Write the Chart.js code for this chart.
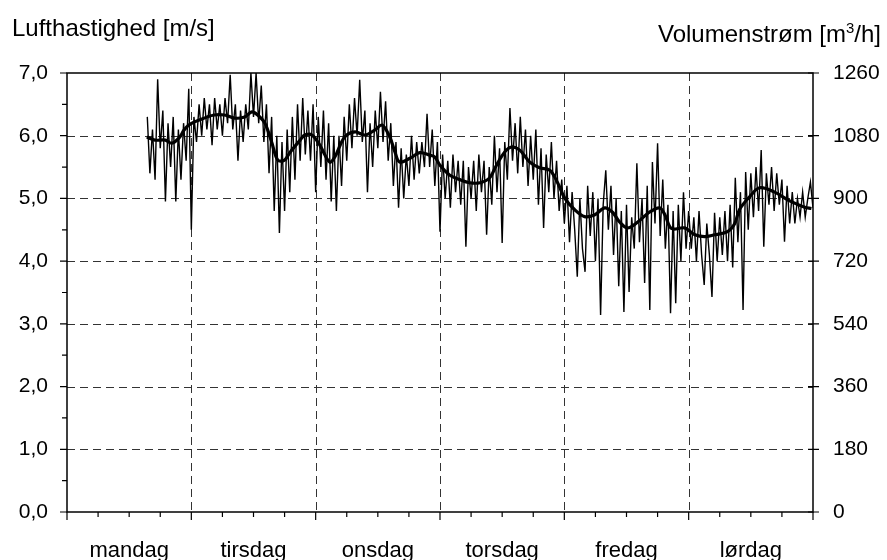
<!DOCTYPE html>
<html>
<head>
<meta charset="utf-8">
<script src="https://cdn.jsdelivr.net/npm/chart.js@4/dist/chart.umd.min.js"></script>
<style>
  body { margin: 0; background: #fff; }
  #wrap { position: relative; width: 887px; height: 560px; }
  .ttl { position: absolute; font-family: "Liberation Sans", Arial, sans-serif; color: #000; line-height: 1; white-space: nowrap; }
  .ttl sup { font-size: 62%; vertical-align: 0.6em; line-height: 0; }
</style>
</head>
<body>
<div id="wrap">
  <canvas id="c" width="887" height="560"></canvas>
  <div class="ttl" style="left:12px; top:16px; font-size:24px;">Lufthastighed [m/s]</div>
  <div class="ttl" style="right:6px; top:22px; font-size:24px;">Volumenstrøm [m<sup>3</sup>/h]</div>
</div>
<script>
/* =========================
   DATA
   ========================= */
const dayNames = ["mandag", "tirsdag", "onsdag", "torsdag", "fredag", "lørdag"];

// raw measurements, hours from monday 00:00
const rawHours = [
  15.5, 16, 16.5, 17, 17.5, 18, 18.5, 19, 19.5, 20, 20.5, 21, 21.5, 22, 22.5, 23, 23.5, 24,
  24.5, 25, 25.5, 26, 26.5, 27, 27.5, 28, 28.5, 29, 29.5, 30, 30.5, 31, 31.5, 32, 32.5, 33,
  33.5, 34, 34.5, 35, 35.5, 36, 36.5, 37, 37.5, 38, 38.5, 39, 39.5, 40, 40.5, 41, 41.5, 42,
  42.5, 43, 43.5, 44, 44.5, 45, 45.5, 46, 46.5, 47, 47.5, 48, 48.5, 49, 49.5, 50, 50.5, 51,
  51.5, 52, 52.5, 53, 53.5, 54, 54.5, 55, 55.5, 56, 56.5, 57, 57.5, 58, 58.5, 59, 59.5, 60,
  60.5, 61, 61.5, 62, 62.5, 63, 63.5, 64, 64.5, 65, 65.5, 66, 66.5, 67, 67.5, 68, 68.5, 69,
  69.5, 70, 70.5, 71, 71.5, 72, 72.5, 73, 73.5, 74, 74.5, 75, 75.5, 76, 76.5, 77, 77.5, 78,
  78.5, 79, 79.5, 80, 80.5, 81, 81.5, 82, 82.5, 83, 83.5, 84, 84.5, 85, 85.5, 86, 86.5, 87,
  87.5, 88, 88.5, 89, 89.5, 90, 90.5, 91, 91.5, 92, 92.5, 93, 93.5, 94, 94.5, 95, 95.5, 96,
  96.5, 97, 97.5, 98, 98.5, 99, 99.5, 100, 100.5, 101, 101.5, 102, 102.5, 103, 103.5, 104, 104.5, 105,
  105.5, 106, 106.5, 107, 107.5, 108, 108.5, 109, 109.5, 110, 110.5, 111, 111.5, 112, 112.5, 113, 113.5, 114,
  114.5, 115, 115.5, 116, 116.5, 117, 117.5, 118, 118.5, 119, 119.5, 120, 120.5, 121, 121.5, 122, 122.5, 123,
  123.5, 124, 124.5, 125, 125.5, 126, 126.5, 127, 127.5, 128, 128.5, 129, 129.5, 130, 130.5, 131, 131.5, 132,
  132.5, 133, 133.5, 134, 134.5, 135, 135.5, 136, 136.5, 137, 137.5, 138, 138.5, 139, 139.5, 140, 140.5, 141,
  141.5, 142, 142.5, 143, 143.5, 144
];
const rawSpeed = [
  6.3, 5.4, 6.1, 5.3, 6.9, 5.8, 6.4, 4.95, 6.2, 5.5, 6.3, 4.95, 6.1, 5.3, 6.2, 5.6, 6.75, 4.5,
  6.3, 5.9, 6.5, 6.0, 6.6, 6.1, 6.5, 5.85, 6.6, 6.1, 6.5, 6.0, 6.6, 6.2, 6.97, 6.1, 6.5, 5.6,
  6.4, 5.9, 6.5, 6.1, 7.0, 6.3, 7.0, 6.2, 6.8, 5.9, 6.5, 5.4, 6.3, 4.8, 6.0, 4.45, 5.9, 4.8,
  6.1, 5.1, 6.3, 5.3, 6.5, 5.6, 6.6, 5.7, 6.4, 5.6, 6.5, 5.1, 6.3, 5.5, 6.4, 5.3, 6.2, 4.95,
  6.0, 4.8, 6.0, 5.2, 6.3, 5.6, 6.5, 5.8, 6.6, 6.0, 6.89, 5.9, 6.4, 5.1, 6.2, 5.5, 6.4, 5.8,
  6.7, 5.9, 6.55, 5.6, 6.2, 5.2, 5.9, 4.85, 5.8, 5.0, 5.7, 5.2, 6.0, 5.3, 5.9, 5.4, 5.9, 5.5,
  6.35, 5.5, 6.1, 5.2, 5.9, 4.47, 5.7, 5.0, 5.6, 4.85, 5.7, 5.1, 5.6, 4.9, 5.6, 4.23, 5.5, 5.0,
  5.6, 4.8, 5.7, 5.1, 5.6, 4.42, 5.5, 4.9, 6.0, 5.1, 5.8, 4.29, 5.9, 5.3, 6.44, 5.6, 6.2, 5.4,
  6.3, 5.5, 6.1, 5.2, 6.0, 5.3, 6.1, 4.9, 5.8, 4.53, 5.7, 5.1, 5.9, 5.0, 5.6, 4.8, 5.3, 4.6,
  5.2, 4.3, 5.1, 4.5, 3.75, 5.0, 4.2, 3.83, 5.2, 4.4, 5.1, 4.0, 5.0, 3.14, 4.9, 5.45, 4.5, 5.2,
  4.1, 5.0, 3.6, 4.8, 3.19, 4.9, 3.51, 4.7, 4.2, 5.56, 4.3, 5.0, 3.65, 5.2, 3.22, 5.58, 4.6, 5.88,
  4.4, 5.3, 4.2, 4.9, 3.17, 4.8, 3.33, 4.9, 4.0, 5.1, 4.2, 4.8, 4.2, 4.7, 4.0, 4.8, 4.1, 3.62,
  4.6, 4.1, 3.43, 4.77, 4.0, 4.7, 4.1, 4.8, 4.0, 4.9, 3.9, 5.33, 4.3, 5.1, 3.22, 5.42, 4.5, 5.4,
  4.7, 5.5, 4.8, 5.77, 4.23, 5.4, 4.9, 5.5, 4.8, 5.4, 4.9, 5.3, 4.31, 5.2, 4.6, 5.1, 4.6, 5.0,
  4.7, 5.1, 4.7, 5.0, 5.26, 4.85
];

// running mean
const meanHours = [
  15.4, 17.0, 19.0, 20.2, 21.6, 22.6, 23.5, 25.5, 28.4, 30.4, 32.4, 34.3, 35.7, 36.8, 38.2, 39.5,
  40.7, 42.0, 43.0, 45.0, 45.9, 47.3, 48.8, 50.7, 51.7, 53.6, 55.6, 57.5, 59.4, 60.8, 62.3, 63.3,
  64.2, 66.2, 68.1, 70.0, 71.0, 72.0, 73.9, 75.8, 77.7, 79.7, 81.6, 82.9, 84.5, 85.8, 87.4, 89.3,
  91.2, 93.2, 94.7, 96.1, 98.0, 99.9, 101.9, 103.8, 105.3, 106.7, 108.2, 110.1, 112.4, 114.4, 115.4,
  116.7, 119.2, 121.2, 123.1, 125.0, 127.5, 128.9, 129.8, 131.8, 133.7, 136.6, 139.5, 142.4, 143.7
];
const meanSpeed = [
  5.98, 5.93, 5.93, 5.88, 5.96, 6.09, 6.17, 6.25, 6.33, 6.33, 6.28, 6.3, 6.38, 6.33, 6.2, 5.9,
  5.61, 5.61, 5.73, 5.93, 6.01, 6.01, 5.85, 5.58, 5.66, 5.98, 6.06, 6.01, 6.09, 6.17, 5.98, 5.74,
  5.58, 5.64, 5.73, 5.69, 5.66, 5.53, 5.37, 5.3, 5.25, 5.25, 5.33, 5.53, 5.74, 5.82, 5.77, 5.58,
  5.49, 5.45, 5.25, 5.0, 4.82, 4.71, 4.74, 4.85, 4.78, 4.62, 4.53, 4.62, 4.78, 4.85, 4.74,
  4.52, 4.53, 4.42, 4.39, 4.42, 4.47, 4.6, 4.82, 5.03, 5.17, 5.1, 4.96, 4.86, 4.84
];

const FONT = "'Liberation Sans', Arial, sans-serif";

/* =========================
   FRAME, GRID AND TICKS
   ========================= */
const framePlugin = {
  id: "frame",
  beforeDatasetsDraw(chart) {
    const { ctx, chartArea: a, scales } = chart;
    ctx.save();
    ctx.strokeStyle = "#333";
    ctx.lineWidth = 1;
    ctx.setLineDash([8, 5]);
    for (let v = 1; v < 7; v++) {
      const y = Math.round(scales.y.getPixelForValue(v)) + 0.5;
      ctx.beginPath(); ctx.moveTo(a.left, y); ctx.lineTo(a.right, y); ctx.stroke();
    }
    for (let h = 24; h < 144; h += 24) {
      const x = Math.round(scales.x.getPixelForValue(h)) + 0.5;
      ctx.beginPath(); ctx.moveTo(x, a.top); ctx.lineTo(x, a.bottom); ctx.stroke();
    }
    ctx.restore();
  },
  afterDatasetsDraw(chart) {
    const { ctx, chartArea: a, scales } = chart;
    ctx.save();
    ctx.strokeStyle = "#000";
    ctx.lineWidth = 1.5;
    ctx.strokeRect(a.left, a.top, a.right - a.left, a.bottom - a.top);
    ctx.lineWidth = 1.2;
    ctx.beginPath();
    for (let v = 0; v <= 7; v += 0.5) {
      const y = scales.y.getPixelForValue(v);
      ctx.moveTo(a.left - (v % 1 === 0 ? 7 : 5), y); ctx.lineTo(a.left, y);
    }
    for (let v = 0; v <= 1260; v += 180) {
      const y = scales.y2.getPixelForValue(v);
      ctx.moveTo(a.right - 5, y); ctx.lineTo(a.right + 6, y);
    }
    for (let h = 0; h <= 144; h += 6) {
      const x = scales.x.getPixelForValue(h);
      ctx.moveTo(x, a.bottom); ctx.lineTo(x, a.bottom + (h % 24 === 0 ? 8 : 5));
    }
    ctx.stroke();
    ctx.restore();
  }
};

new Chart(document.getElementById("c"), {
  type: "line",
  data: {
    datasets: [
      {
        data: rawHours.map((h, i) => ({ x: h, y: rawSpeed[i] })),
        borderColor: "#000",
        borderWidth: 1.4,
        pointRadius: 0,
        tension: 0
      },
      {
        data: meanHours.map((h, i) => ({ x: h, y: meanSpeed[i] })),
        borderColor: "#000",
        borderWidth: 3.2,
        pointRadius: 0,
        tension: 0.35
      }
    ]
  },
  options: {
    responsive: false,
    animation: false,
    devicePixelRatio: 1,
    layout: { padding: { top: 73, left: 0, right: 0, bottom: 0 } },
    plugins: { legend: { display: false }, tooltip: { enabled: false } },
    scales: {
      x: {
        type: "linear",
        min: 0,
        max: 144,
        afterBuildTicks: s => { s.ticks = dayNames.map((d, i) => ({ value: 12 + 24 * i })); },
        afterFit: s => { s.height = 48; },
        ticks: {
          autoSkip: false,
          maxRotation: 0,
          padding: 26,
          color: "#000",
          font: { family: FONT, size: 22 },
          callback: v => dayNames[Math.round((v - 12) / 24)]
        },
        grid: { display: false, drawTicks: false },
        border: { display: false }
      },
      y: {
        min: 0,
        max: 7,
        afterBuildTicks: s => { s.ticks = [0, 1, 2, 3, 4, 5, 6, 7].map(v => ({ value: v })); },
        afterFit: s => { s.width = 67; },
        ticks: {
          padding: 19,
          color: "#000",
          font: { family: FONT, size: 21 },
          callback: v => v.toFixed(1).replace(".", ",")
        },
        grid: { display: false, drawTicks: false },
        border: { display: false }
      },
      y2: {
        position: "right",
        min: 0,
        max: 1260,
        afterBuildTicks: s => { s.ticks = [0, 180, 360, 540, 720, 900, 1080, 1260].map(v => ({ value: v })); },
        afterFit: s => { s.width = 74; },
        ticks: {
          padding: 20,
          color: "#000",
          font: { family: FONT, size: 21 },
          callback: v => String(v)
        },
        grid: { display: false, drawTicks: false },
        border: { display: false }
      }
    }
  },
  plugins: [framePlugin]
});
</script>
</body>
</html>
